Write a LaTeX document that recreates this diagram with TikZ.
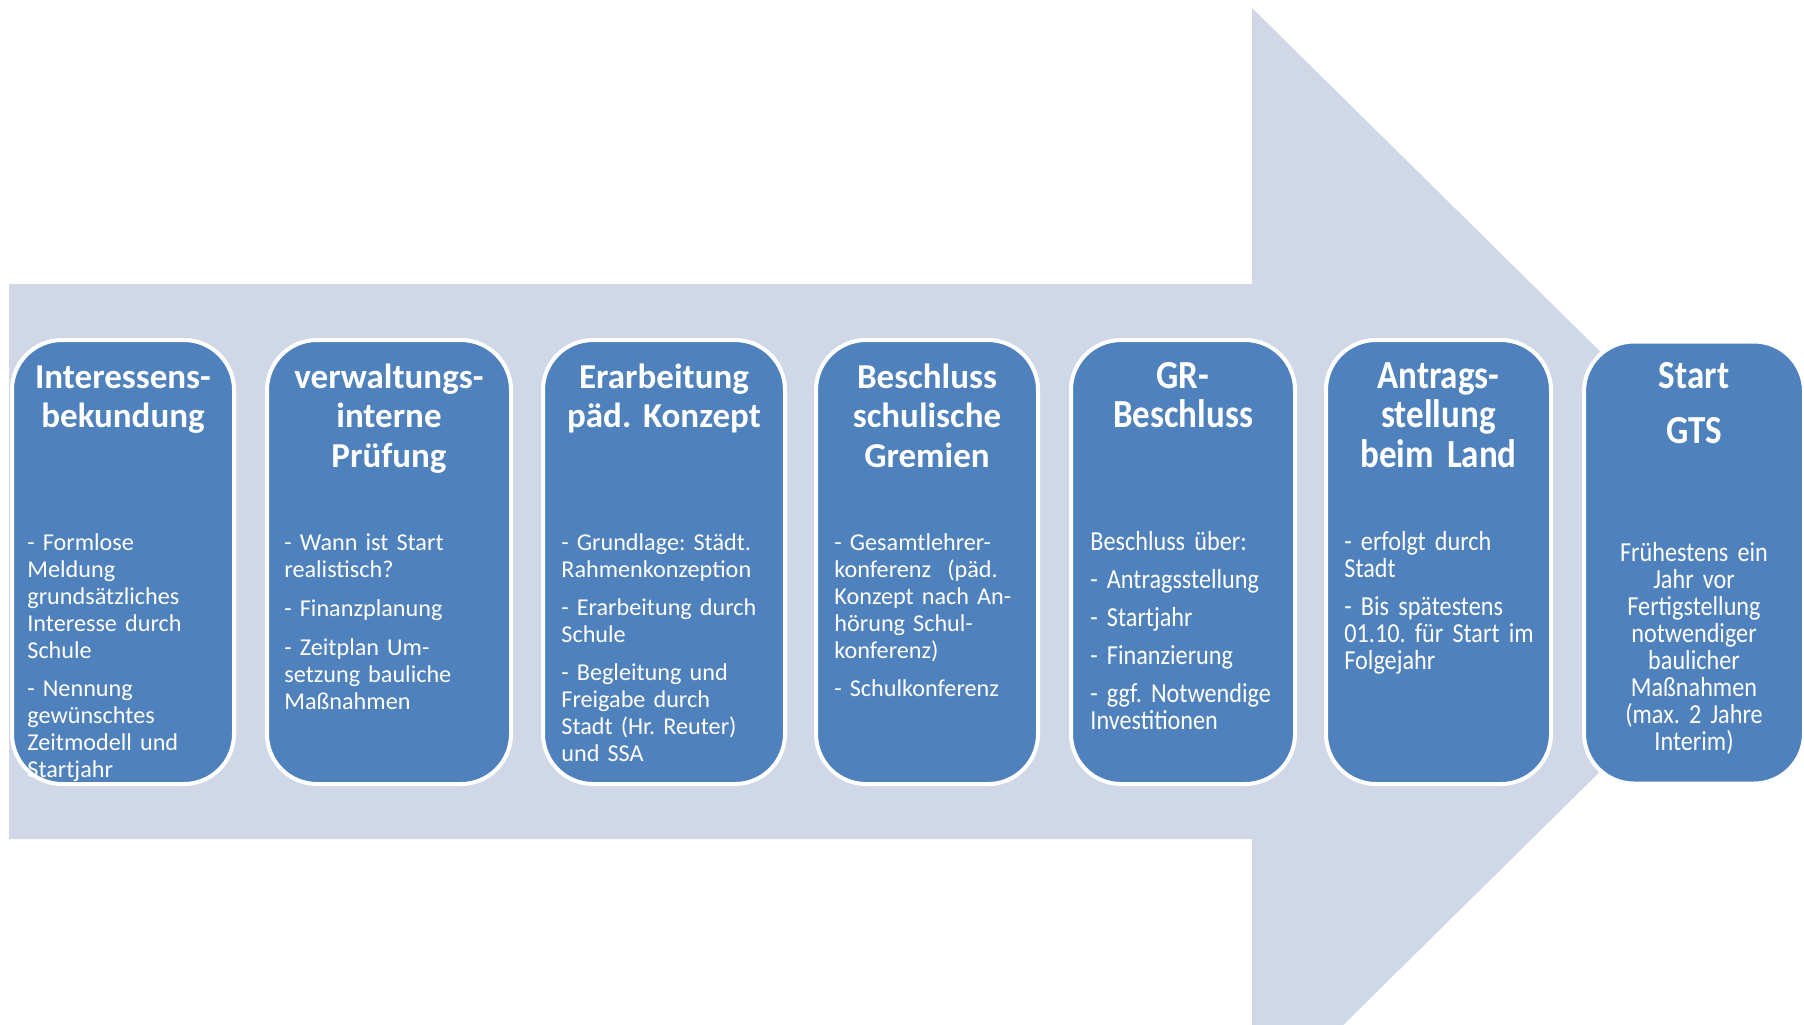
\documentclass[tikz,border=0pt]{standalone}
\usepackage{fontspec}
\setmainfont{Carlito}
\newfontfamily\narrowfont[FakeStretch=0.88]{Carlito}
\usetikzlibrary{calc}
\definecolor{arrowfill}{HTML}{D0D8E8}
\definecolor{boxblue}{HTML}{4F81BD}
\frenchspacing

\begin{document}
\begin{tikzpicture}[x=0.5pt, y=-0.5pt,
    stage/.style={draw=white, line width=2pt, fill=boxblue, rounded corners=25pt,
      minimum height=222pt, inner sep=0pt},
    head/.style={anchor=base, text=white, align=center, inner sep=0pt, text width=120pt,
      font=\fontsize{17.5}{19.75}\selectfont\bfseries},
    narrowhead/.style={head, font=\narrowfont\fontsize{19.9}{19.75}\selectfont\bfseries},
    body/.style={anchor=base west, text=white, align=left, inner sep=0pt, text width=115pt,
      font=\fontsize{12.1}{13.5}\selectfont},
    narrowbody/.style={body, font=\narrowfont\fontsize{13.75}{13.5}\selectfont}]
    \useasboundingbox (0,0) rectangle (1804,1024);
    \clip (0,0) rectangle (1804,1024);

    \fill[arrowfill] (9,284) -- (1252,284) -- (1252,8) -- (1813,561.5)
        -- (1252,1115) -- (1252,839) -- (9,839) -- cycle;

    \node[stage, minimum width=111pt] (s1) at (123,562) {};
    \node[stage, minimum width=122pt] (s2) at (389,562) {};
    \node[stage, minimum width=121pt] (s3) at (664,562) {};
    \node[stage, minimum width=111pt] (s4) at (927,562) {};
    \node[stage, minimum width=112pt] (s5) at (1183,562) {};
    \node[stage, minimum width=112.5pt] (s6) at (1438.5,562) {};
    \node[stage, minimum width=110pt, minimum height=221pt] (s7) at (1694,562.5) {};

    \node[head] (t1) at ($(s1.north)+(0,50)$) {Interessens-\\bekundung};
    \node[head] (t2) at ($(s2.north)+(0,50)$) {verwaltungs-\\interne\\Prüfung};
    \node[head] (t3) at ($(s3.north)+(0,50)$) {Erarbeitung\\päd. Konzept};
    \node[head] (t4) at ($(s4.north)+(0,50)$) {Beschluss\\schulische\\Gremien};
    \node[narrowhead] (t5) at ($(s5.north)+(0,50)$) {GR-\\Beschluss};
    \node[narrowhead] (t6) at ($(s6.north)+(0,50)$) {Antrags-\\stellung\\beim Land};
    \node[narrowhead] (t7) at ($(s7.north)+(0,49)$) {Start\\[7.75pt]GTS};

    \node[body] (b1) at ($(s1.north west)+(17,212)$)
        {- Formlose\\Meldung\\grundsätzliches\\Interesse durch\\Schule\\[5.5pt]- Nennung\\gewünschtes\\Zeitmodell und\\Startjahr};
    \node[body] (b2) at ($(s2.north west)+(19,212)$)
        {- Wann ist Start\\realistisch?\\[6pt]- Finanzplanung\\[6pt]- Zeitplan Um-\\setzung bauliche\\Maßnahmen};
    \node[body] (b3) at ($(s3.north west)+(20,212)$)
        {- Grundlage: Städt.\\Rahmenkonzeption\\[5.5pt]- Erarbeitung durch\\Schule\\[5.5pt]- Begleitung und\\Freigabe durch\\Stadt (Hr. Reuter)\\und SSA};
    \node[body] (b4) at ($(s4.north west)+(20,212)$)
        {- Gesamtlehrer-\\konferenz\ \ (päd.\\Konzept nach An-\\hörung Schul-\\konferenz)\\[5.5pt]- Schulkonferenz};
    \node[narrowbody] (b5) at ($(s5.north west)+(21,212)$)
        {Beschluss über:\\[5.5pt]- Antragsstellung\\[5.5pt]- Startjahr\\[5.5pt]- Finanzierung\\[5.5pt]- ggf. Notwendige\\Investitionen};
    \node[narrowbody] (b6) at ($(s6.north west)+(20,212)$)
        {- erfolgt durch\\Stadt\\[5.5pt]- Bis spätestens\\01.10. für Start im\\Folgejahr};
    \node[narrowbody, anchor=base, align=center] (b7) at ($(s7.north)+(0,222)$)
        {Frühestens ein\\Jahr vor\\Fertigstellung\\notwendiger\\baulicher\\Maßnahmen\\(max. 2 Jahre\\Interim)};
\end{tikzpicture}
\end{document}
